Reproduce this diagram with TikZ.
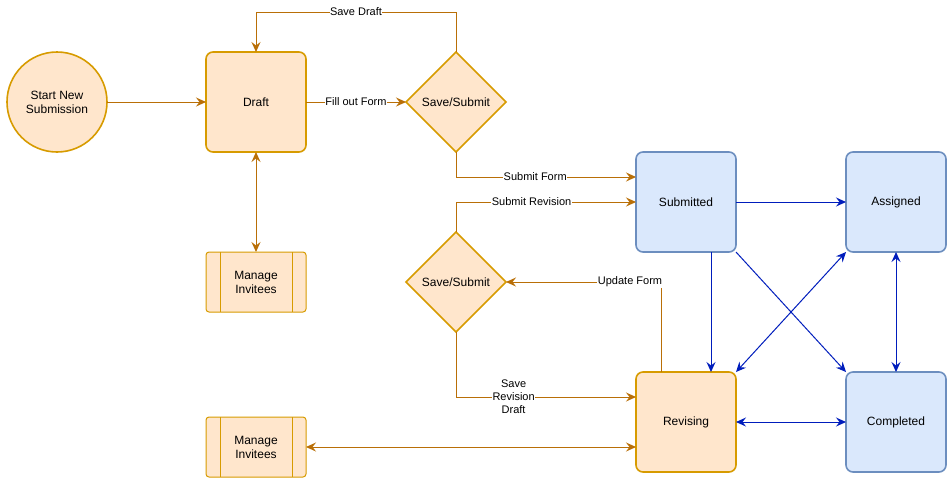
\documentclass[tikz,border=0pt]{standalone}
\usepackage{fontspec}
\setmainfont{Liberation Sans}
\usetikzlibrary{shapes.geometric,arrows.meta,calc}
\definecolor{ofill}{HTML}{FFE6CC}
\definecolor{ostroke}{HTML}{D79B00}
\definecolor{oline}{HTML}{B96F07}
\definecolor{bfill}{HTML}{DAE8FC}
\definecolor{bstroke}{HTML}{6C8EBF}
\definecolor{bline}{HTML}{001DBC}
\tikzset{
  base/.style={outer sep=0pt, inner sep=2pt, align=center, font=\fontsize{12}{14}\selectfont},
  obox/.style={base, draw=ostroke, fill=ofill, line width=1.6pt, rounded corners=7pt, minimum width=100pt, minimum height=100pt},
  bbox/.style={base, draw=bstroke, fill=bfill, line width=1.6pt, rounded corners=7pt, minimum width=100pt, minimum height=100pt},
  ocirc/.style={base, circle, draw=ostroke, fill=ofill, line width=1.6pt, minimum size=100pt},
  odiam/.style={base, diamond, draw=ostroke, fill=ofill, line width=1.6pt, minimum width=100pt, minimum height=100pt, inner sep=0pt},
  oproc/.style={base, draw=ostroke, fill=ofill, line width=1pt, rounded corners=3pt, minimum width=100pt, minimum height=60pt},
  oarr/.style={draw=oline, line width=1pt, -{Stealth[length=10pt,width=9pt,inset=3.5pt]}},
  obiarr/.style={draw=oline, line width=1pt, {Stealth[length=10pt,width=9pt,inset=3.5pt]}-{Stealth[length=10pt,width=9pt,inset=3.5pt]}},
  barr/.style={draw=bline, line width=1pt, -{Stealth[length=10pt,width=9pt,inset=3.5pt]}},
  bbiarr/.style={draw=bline, line width=1pt, {Stealth[length=10pt,width=9pt,inset=3.5pt]}-{Stealth[length=10pt,width=9pt,inset=3.5pt]}},
  lbl/.style={fill=white, inner sep=0.5pt, align=center, font=\fontsize{11}{13}\selectfont, text=black}
}
\begin{document}
\begin{tikzpicture}[x=1pt,y=-1pt]
\useasboundingbox (0,0) rectangle (952,483);
% nodes
\node[ocirc] (start) at (57,102) {Start New\\Submission};
\node[obox] (draft) at (256,102) {Draft};
\node[odiam] (d1) at (456,102) {Save/Submit};
\node[oproc] (m1) at (256,282) {Manage\\Invitees};
\node[oproc] (m2) at (256,447) {Manage\\Invitees};
\node[bbox] (sub) at (686,202) {Submitted};
\node[bbox] (asg) at (896,202) {Assigned};
\node[bbox] (com) at (896,422) {Completed};
\node[obox] (rev) at (686,422) {Revising};
\node[odiam] (d2) at (456,282) {Save/Submit};
% process inner lines
\foreach \m in {m1,m2}{
  \draw[draw=ostroke, line width=1pt] ($(\m.north west)+(14,0)$) -- ($(\m.south west)+(14,0)$);
  \draw[draw=ostroke, line width=1pt] ($(\m.north east)+(-14,0)$) -- ($(\m.south east)+(-14,0)$);
}
% bend coordinates
\coordinate (sdc) at ($(draft.north)+(0,-40)$);
\coordinate (sfc) at ($(sub.west)+(0,-25)$);
\coordinate (ufc) at ($(rev.north)+(-25,0)$);
\coordinate (src) at ($(rev.west)+(0,-25)$);
\coordinate (mrc) at ($(rev.west)+(0,25)$);
\coordinate (srb) at ($(sub.south)+(25,0)$);
\coordinate (rvt) at ($(rev.north)+(25,0)$);
% orange connectors
\draw[oarr] (start.east) -- (draft.west);
\draw[oarr] (draft) -- node[lbl]{Fill out Form} (d1);
\draw[oarr] (d1.north) |- node[lbl,pos=0.75]{Save Draft} (sdc) -- (draft.north);
\draw[oarr] (d1.south) |- node[lbl,pos=0.72]{Submit Form} (sfc);
\draw[oarr] (d2.north) |- node[lbl,pos=0.71]{Submit Revision} (sub.west);
\draw[oarr] (ufc) |- node[lbl,pos=0.60]{Update Form} (d2.east);
\draw[oarr] (d2.south) |- node[lbl,pos=0.66]{Save\\Revision\\Draft} (src);
\draw[obiarr] (draft.south) -- (m1.north);
\draw[obiarr] (m2.east) -- (mrc);
% blue connectors
\draw[barr] (sub.east) -- (asg.west);
\draw[barr] (srb) -- (rvt);
\draw[barr] (sub.south east) -- (com.north west);
\draw[bbiarr] (asg.south west) -- (rev.north east);
\draw[bbiarr] (asg.south) -- (com.north);
\draw[bbiarr] (rev.east) -- (com.west);
\end{tikzpicture}
\end{document}
